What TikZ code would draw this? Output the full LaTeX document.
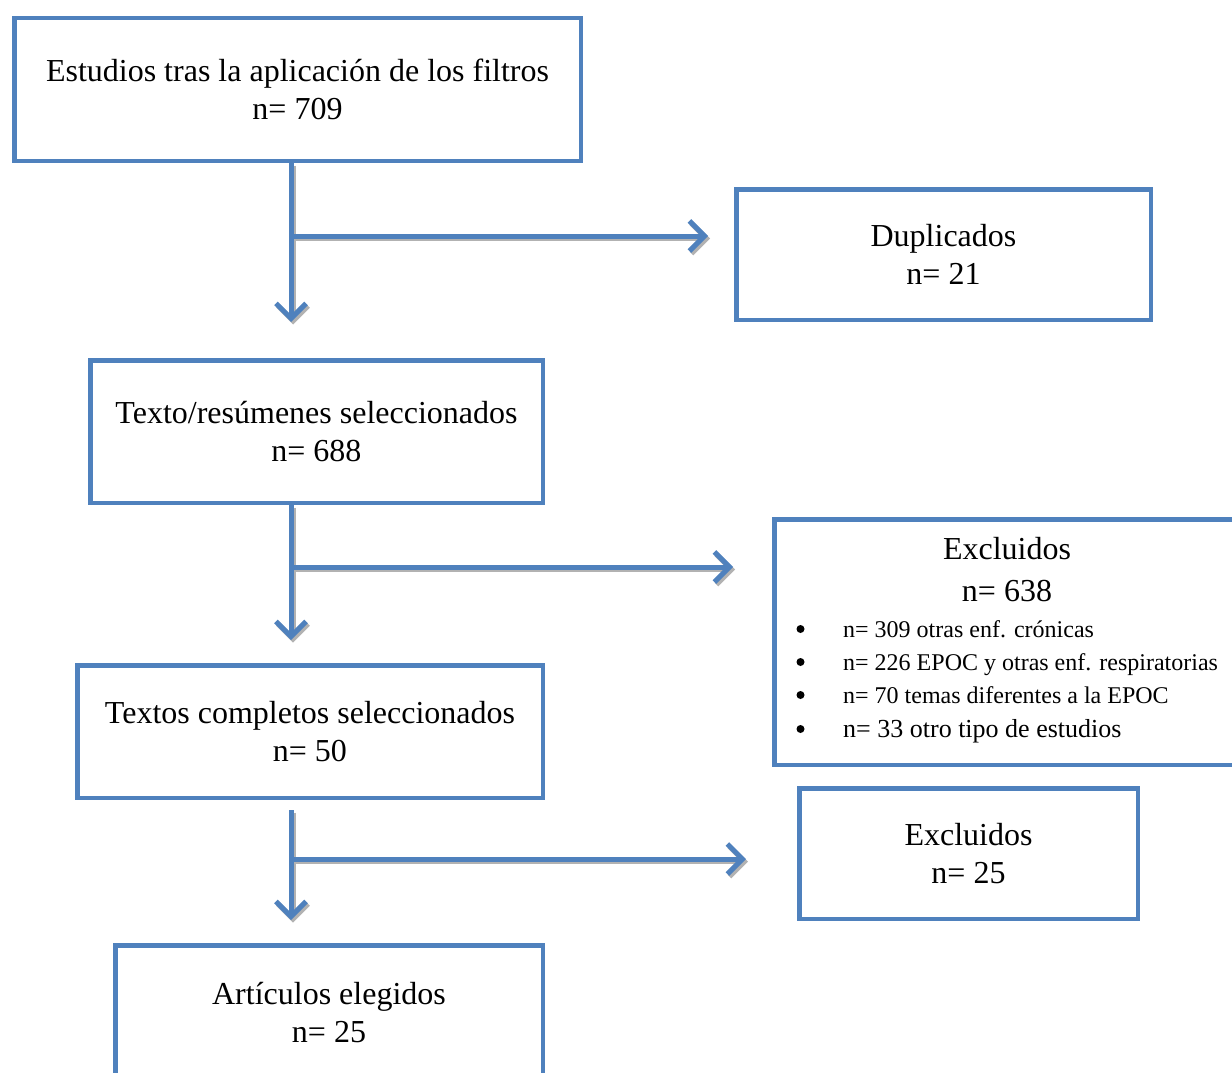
\documentclass[tikz,border=0pt]{standalone}
\usepackage{fontspec}
\setmainfont{Liberation Serif}
\usetikzlibrary{arrows.meta}
\definecolor{boxblue}{HTML}{4F81BD}
\tikzset{
	stage/.style={draw=boxblue,line width=4.5pt,align=center,inner sep=0pt,font=\fontsize{32}{38}\selectfont},%
	flow/.style={draw=boxblue,line width=5pt,-{Straight Barb[length=15pt,width=30pt]}},%
	flowshadow/.style={draw=gray!60,line width=5pt,-{Straight Barb[length=15pt,width=30pt]},transform canvas={shift={(2pt,-2.5pt)}}},%
	item/.style={anchor=mid west,inner sep=0pt,font=\fontsize{24}{28}\selectfont},%
	dot/.style={circle,fill=black,inner sep=0pt,minimum size=8pt},%
}

\begin{document}
\begin{tikzpicture}[x=1pt,y=-1pt]
		\clip[use as bounding box] (0,0) rectangle (1232,1073);
		% Boxes {{{
		\node[stage,minimum width=566.5,minimum height=142.5] (filtros) at (297.5,89.5) {Estudios tras la aplicación de los filtros\\n= 709};
		\node[stage,minimum width=414.5,minimum height=130.5] (duplicados) at (943.5,254.5) {Duplicados\\n= 21};
		\node[stage,minimum width=452.5,minimum height=142.5] (resumenes) at (316.5,431.5) {Texto/resúmenes seleccionados\\n= 688};
		\node[stage,minimum width=465.5,minimum height=245.5] (excluidosA) at (1007,642) {};
		\node[stage,minimum width=465.5,minimum height=132.5] (completos) at (310,731.5) {Textos completos seleccionados\\n= 50};
		\node[stage,minimum width=338.5,minimum height=130.5] (excluidosB) at (968.5,853.5) {Excluidos\\n= 25};
		\node[stage,minimum width=427.5,minimum height=135.5] (elegidos) at (329,1013) {Artículos elegidos\\n= 25};
		% }}}
		% Excluded list {{{
		\node[align=center,inner sep=0pt,font=\fontsize{32}{42}\selectfont] (titulo) at (1007,570) {Excluidos\\n= 638};
		\foreach \y/\txt [count=\i] in {631/n= 309 otras enf. crónicas,664/n= 226 EPOC y otras enf. respiratorias,697/n= 70 temas diferentes a la EPOC}{
			\node[dot] (bullet\i) at (800.5,\y-2) {};
			\node[item] (motivo\i) at (843,\y+4) {\txt};
		}
		\node[dot] (bullet4) at (800.5,729) {};
		\node[item,font=\fontsize{26}{30}\selectfont] (motivo4) at (843,735) {n= 33 otro tipo de estudios};
		% }}}
		% Arrows {{{
		\coordinate (topA) at (filtros.south -| 291,0);
		\coordinate (downA) at (291,322);
		\coordinate (forkA) at (291,236);
		\coordinate (endA) at (708,236);
		\coordinate (topB) at (resumenes.south -| 291,0);
		\coordinate (downB) at (291,640);
		\coordinate (forkB) at (291,567);
		\coordinate (endB) at (733,567);
		\coordinate (topC) at (291,810);
		\coordinate (downC) at (291,920);
		\coordinate (forkC) at (291,859);
		\coordinate (endC) at (746,859);
		\foreach \from/\to in {topA/downA,forkA/endA,topB/downB,forkB/endB,topC/downC,forkC/endC}{
			\draw[flowshadow] (\from) -- (\to);
		}
		\foreach \from/\to in {topA/downA,forkA/endA,topB/downB,forkB/endB,topC/downC,forkC/endC}{
			\draw[flow] (\from) -- (\to);
		}
		% }}}
	\end{tikzpicture}
\end{document}
